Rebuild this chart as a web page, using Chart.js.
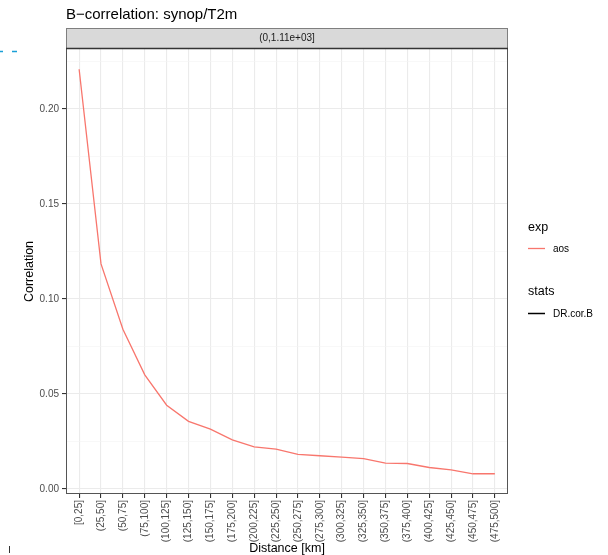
<!DOCTYPE html>
<html>
<head>
<meta charset="utf-8">
<script src="https://cdn.jsdelivr.net/npm/chart.js@4/dist/chart.umd.min.js"></script>
<style>
  body { margin: 0; background: #fff; }
  canvas { display: block; }
</style>
</head>
<body>
<canvas id="chart" width="608" height="555"></canvas>
<script>
// DATA
const distLabels = ["[0,25]", "(25,50]", "(50,75]", "(75,100]", "(100,125]", "(125,150]",
  "(150,175]", "(175,200]", "(200,225]", "(225,250]", "(250,275]", "(275,300]",
  "(300,325]", "(325,350]", "(350,375]", "(375,400]", "(400,425]", "(425,450]",
  "(450,475]", "(475,500]"]
const corrAos = [0.2209, 0.1184, 0.0840, 0.0600, 0.0440, 0.0355, 0.0314, 0.0258,
  0.0221, 0.0209, 0.0181, 0.0174, 0.0167, 0.0159, 0.0135, 0.0133, 0.0112, 0.0100,
  0.0079, 0.0079]
const yTicks = [0, 0.025, 0.05, 0.075, 0.1, 0.125, 0.15, 0.175, 0.2, 0.225]
const titleText = "B\u2212correlation: synop/T2m"
const stripText = "(0,1.11e+03]"
const legendExp = ["exp", "aos"]
const legendStats = ["stats", "DR.cor.B"]

const FONT = "'Liberation Sans', Arial, sans-serif"
const RED = "#F8766D"

// ggplot style 5% expansion of the y range
const yMinData = Math.min(...corrAos), yMaxData = Math.max(...corrAos)
const yPad = (yMaxData - yMinData) * 0.05

const isMajor = (v) => Math.abs(v / 0.05 - Math.round(v / 0.05)) < 1e-6

// DECORATIONS (title, strip, legend, axis titles, panel border)
const decor = {
  id: "decor",
  afterDatasetsDraw(chart) {
    const c = chart.ctx
    const a = chart.chartArea
    c.save()

    // panel border
    c.strokeStyle = "#555"
    c.lineWidth = 1
    c.strokeRect(a.left + 0.5, a.top - 0.5, a.right - a.left - 1, a.bottom - a.top)

    // strip
    c.fillStyle = "#D9D9D9"
    c.fillRect(a.left, 28, a.right - a.left, a.top - 28)
    c.strokeStyle = "#7F7F7F"
    c.strokeRect(a.left + 0.5, 28.5, a.right - a.left - 1, a.top - 29)
    c.strokeStyle = "#333"
    c.lineWidth = 1.5
    c.beginPath()
    c.moveTo(a.left, a.top - 0.5)
    c.lineTo(a.right, a.top - 0.5)
    c.stroke()
    c.fillStyle = "#1A1A1A"
    c.font = "10px " + FONT
    c.textAlign = "center"
    c.textBaseline = "middle"
    c.fillText(stripText, (a.left + a.right) / 2, 38.5)

    // title
    c.fillStyle = "#000"
    c.font = "15px " + FONT
    c.textAlign = "left"
    c.textBaseline = "alphabetic"
    c.fillText(titleText, 66, 19)

    // axis titles
    c.font = "12.5px " + FONT
    c.textAlign = "center"
    c.fillText("Distance [km]", (a.left + a.right) / 2, 552)
    c.save()
    c.translate(33, (a.top + a.bottom) / 2)
    c.rotate(-Math.PI / 2)
    c.fillText("Correlation", 0, 0)
    c.restore()

    // legend
    c.textAlign = "left"
    c.font = "12.5px " + FONT
    c.fillText(legendExp[0], 528, 231)
    c.fillText(legendStats[0], 528, 295)
    c.font = "10px " + FONT
    c.textBaseline = "middle"
    c.fillText(legendExp[1], 553, 249)
    c.fillText(legendStats[1], 553, 314)
    c.lineWidth = 1.3
    c.strokeStyle = RED
    c.beginPath()
    c.moveTo(528, 248.5)
    c.lineTo(545, 248.5)
    c.stroke()
    c.strokeStyle = "#000"
    c.lineWidth = 1.5
    c.beginPath()
    c.moveTo(528, 313.5)
    c.lineTo(545, 313.5)
    c.stroke()

    // stray marks at the page edge
    c.strokeStyle = "#1A9FD6"
    c.lineWidth = 1.5
    c.beginPath()
    c.moveTo(0, 51.5); c.lineTo(3, 51.5)
    c.moveTo(12, 51.5); c.lineTo(17, 51.5)
    c.stroke()
    c.strokeStyle = "#333"
    c.lineWidth = 1
    c.beginPath()
    c.moveTo(9.5, 546); c.lineTo(9.5, 553)
    c.stroke()

    c.restore()
  },
}

const ctx = document.getElementById("chart").getContext("2d")

new Chart(ctx, {
  type: "line",
  data: {
    datasets: [
      {
        label: legendExp[1],
        data: corrAos.map((v, i) => ({ x: i, y: v })),
        borderColor: RED,
        backgroundColor: RED,
        borderWidth: 1.3,
        pointRadius: 0,
        tension: 0,
        fill: false,
      },
    ],
  },
  options: {
    responsive: false,
    animation: false,
    layout: { padding: { top: 49, right: 100, left: 0, bottom: 0 } },
    plugins: {
      legend: { display: false },
      title: { display: false },
      tooltip: { enabled: false },
    },
    scales: {
      x: {
        type: "linear",
        min: -0.6,
        max: distLabels.length - 1 + 0.6,
        bounds: "data",
        afterBuildTicks: (scale) => {
          scale.ticks = distLabels.map((_, i) => ({ value: i }))
        },
        afterFit: (scale) => {
          scale.height = 61
        },
        border: { display: false },
        grid: {
          color: "#EBEBEB",
          lineWidth: 1.1,
          tickColor: "#333",
          tickLength: 4,
        },
        ticks: {
          autoSkip: false,
          minRotation: 90,
          maxRotation: 90,
          padding: 2,
          color: "#4D4D4D",
          font: { family: FONT, size: 10 },
          callback: (v) => distLabels[v],
        },
      },
      y: {
        type: "linear",
        min: yMinData - yPad,
        max: yMaxData + yPad,
        bounds: "data",
        afterBuildTicks: (scale) => {
          scale.ticks = yTicks.map((v) => ({ value: v }))
        },
        afterFit: (scale) => {
          scale.width = 66
        },
        border: { display: false },
        grid: {
          color: (c) => (isMajor(c.tick.value) ? "#EBEBEB" : "#F3F3F3"),
          lineWidth: (c) => (isMajor(c.tick.value) ? 1.1 : 0.6),
          tickColor: (c) => (isMajor(c.tick.value) ? "#333" : "rgba(0,0,0,0)"),
          tickLength: 4,
        },
        ticks: {
          padding: 3,
          color: "#4D4D4D",
          font: { family: FONT, size: 10 },
          callback: (v) => (isMajor(v) ? v.toFixed(2) : ""),
        },
      },
    },
  },
  plugins: [decor],
})
</script>
</body>
</html>
